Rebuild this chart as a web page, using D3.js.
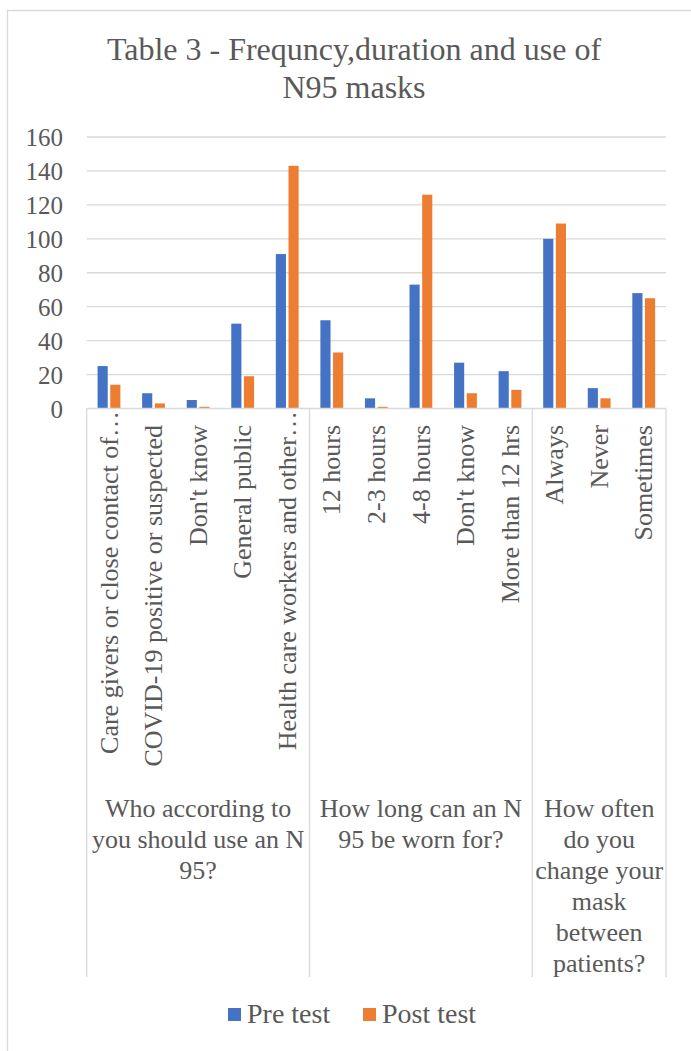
<!DOCTYPE html>
<html>
<head>
<meta charset="utf-8">
<script src="https://cdn.jsdelivr.net/npm/d3@7"></script>
<style>
  body { margin: 0; background: #fff; }
  svg text { font-family: "Liberation Serif", "Times New Roman", Tinos, Times, "DejaVu Serif", serif; fill: #595959; }
</style>
</head>
<body>
<svg width="691" height="1051"></svg>
<script>
var categories = ["Care givers or close contact of\u2026", "COVID-19 positive or suspected", "Don't know",
	"General public", "Health care workers and other\u2026", "12 hours", "2-3 hours", "4-8 hours",
	"Don't know", "More than 12 hrs", "Always", "Never", "Sometimes"];
var groupNames = ["Who according to you should use an N 95?", "How long can an N 95 be worn for?",
	"How often do you change your mask between patients?"];
var groupSizes = [5, 5, 3];
var preTest = [25, 9, 5, 50, 91, 52, 6, 73, 27, 22, 100, 12, 68];
var postTest = [14, 3, 1, 19, 143, 33, 1, 126, 9, 11, 109, 6, 65];
var seriesNames = ["Pre test", "Post test"];
var seriesColors = ["#4472C4", "#ED7D31"];
var yTicks = [0, 20, 40, 60, 80, 100, 120, 140, 160];
var titleLines = ["Table 3 - Frequncy,duration and use of", "N95 masks"];

var svg = d3.select("svg");
var grey = "#d9d9d9";

// chart frame (only top and left edge are in view)
svg.append("path").attr("d", "M7.5,1051V10.5H691").attr("fill", "none").attr("stroke", grey).attr("stroke-width", 1.3);

svg.append("g").selectAll("text").data(titleLines).enter().append("text")
	.attr("x", 354).attr("y", (d, i) => 60 + i * 38)
	.attr("text-anchor", "middle").style("font-size", "32px")
	.text(d => d);

var x = d3.scaleBand().domain(d3.range(categories.length)).range([86.7, 666]);
var y = d3.scaleLinear().domain([0, 160]).range([408.5, 137]);
var xs = d3.scaleBand().domain(seriesNames).range([-11.4, 11.4]).paddingInner(0.2);

// gridlines
svg.append("g").selectAll("line").data(yTicks.slice(1)).enter().append("line")
	.attr("x1", x.range()[0]).attr("x2", x.range()[1])
	.attr("y1", d => y(d)).attr("y2", d => y(d))
	.attr("stroke", grey).attr("stroke-width", 1.3);

var yAxis = svg.append("g").attr("transform", "translate(68,0)")
	.call(d3.axisLeft(y).tickValues(yTicks).tickSize(0).tickPadding(5));
yAxis.attr("font-family", null);
yAxis.select(".domain").remove();
yAxis.selectAll("text").style("font-size", "25px").attr("fill", null).attr("dy", "0.35em");

// bars
var rows = categories.map((c, i) => ({i: i, vals: [preTest[i], postTest[i]]}));
svg.append("g").selectAll("g").data(rows).enter().append("g")
	.attr("transform", d => "translate(" + (x(d.i) + x.bandwidth() / 2) + ",0)")
	.selectAll("rect").data(d => d.vals.map((v, k) => ({s: seriesNames[k], v: v, k: k}))).enter()
	.append("rect")
	.attr("x", d => xs(d.s)).attr("width", xs.bandwidth())
	.attr("y", d => y(d.v)).attr("height", d => y(0) - y(d.v))
	.attr("fill", d => seriesColors[d.k]);

// category axis line + group separators
svg.append("line").attr("x1", x.range()[0]).attr("x2", x.range()[1])
	.attr("y1", y(0)).attr("y2", y(0)).attr("stroke", grey).attr("stroke-width", 1.3);
var bounds = [0];
groupSizes.forEach(n => bounds.push(bounds[bounds.length - 1] + n));
var bx = i => i < categories.length ? x(i) : x.range()[1];
svg.append("g").selectAll("line").data(bounds).enter().append("line")
	.attr("x1", d => bx(d)).attr("x2", d => bx(d))
	.attr("y1", y(0)).attr("y2", 977)
	.attr("stroke", grey).attr("stroke-width", 1.3);

// category labels, rotated; truncated ones spill a little over the axis like in Excel
svg.append("g").selectAll("text").data(categories).enter().append("text")
	.attr("transform", (d, i) => "translate(" + (x(i) + x.bandwidth() / 2) + "," + (d.endsWith("\u2026") ? 411 : 425) + ") rotate(-90)")
	.attr("dy", "0.33em").attr("text-anchor", "end").style("font-size", "26px")
	.text(d => d);

// group labels, wrapped
function wrap(textSel, width) {
	textSel.each(function () {
		var t = d3.select(this), words = t.text().split(" "), line = [];
		var cx = t.attr("x");
		var ts = t.text(null).append("tspan").attr("x", cx).attr("dy", 0);
		words.forEach(function (w) {
			line.push(w);
			ts.text(line.join(" "));
			if (ts.node().getComputedTextLength() > width && line.length > 1) {
				line.pop();
				ts.text(line.join(" "));
				line = [w];
				ts = t.append("tspan").attr("x", cx).attr("dy", 31).text(w);
			}
		});
	});
}
svg.append("g").selectAll("text").data(groupNames).enter().append("text")
	.attr("x", (d, i) => (bx(bounds[i]) + bx(bounds[i + 1])) / 2).attr("y", 817)
	.attr("text-anchor", "middle").style("font-size", "26px")
	.text(d => d)
	.each(function (d, i) { wrap(d3.select(this), bx(bounds[i + 1]) - bx(bounds[i]) - 4); });

// legend
var legX = [228, 363];
var leg = svg.append("g").selectAll("g").data(seriesNames).enter().append("g")
	.attr("transform", (d, i) => "translate(" + legX[i] + ",1008)");
leg.append("rect").attr("width", 13).attr("height", 13).attr("fill", (d, i) => seriesColors[i]);
leg.append("text").attr("x", 19).attr("y", 15).style("font-size", "28px").text(d => d);
</script>
</body>
</html>
